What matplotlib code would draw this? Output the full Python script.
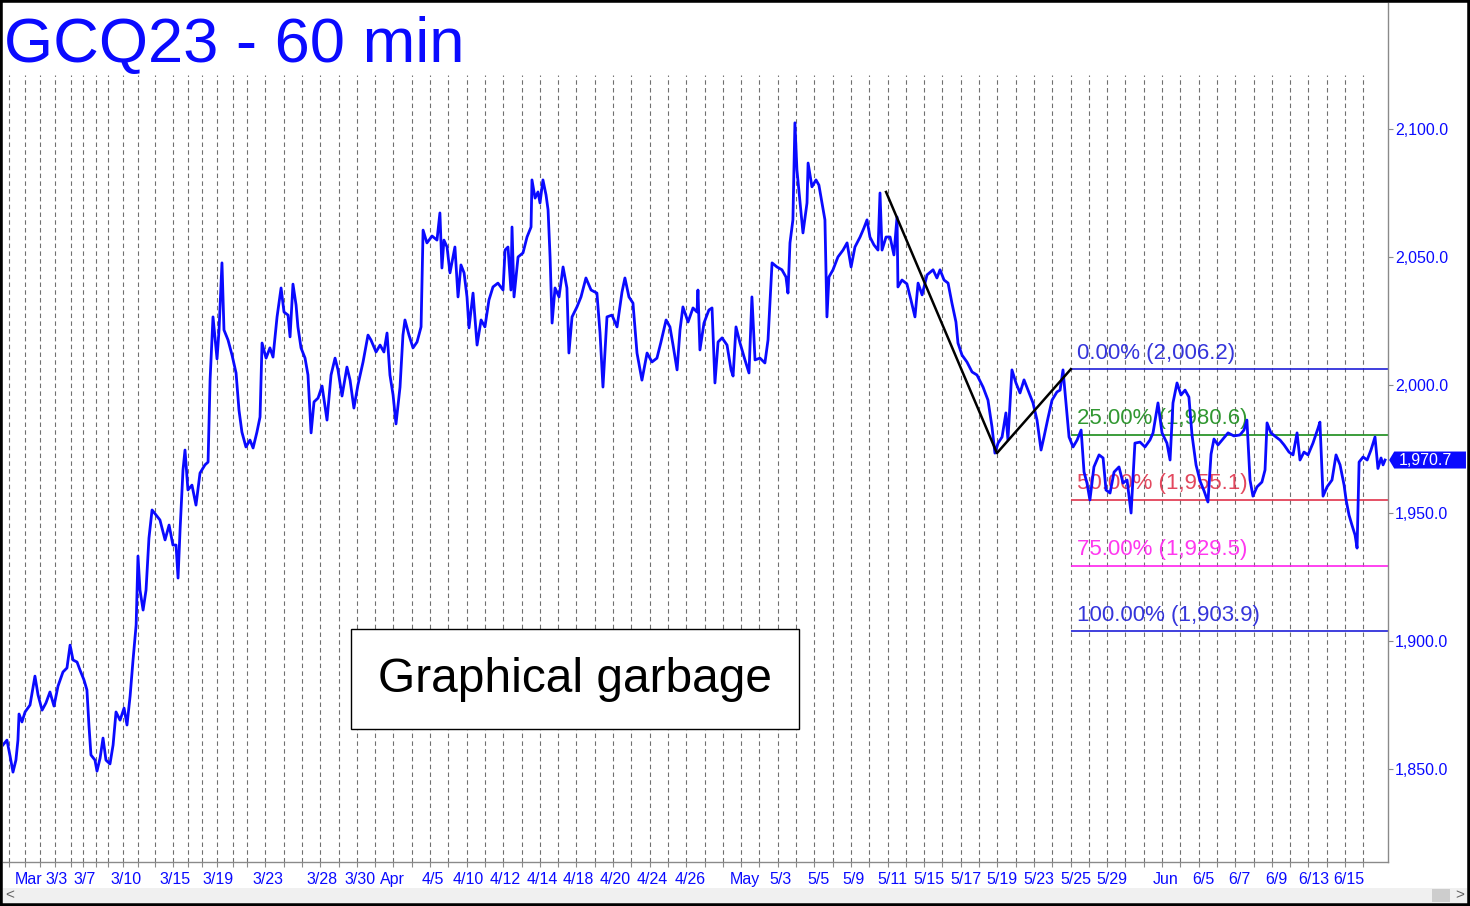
import matplotlib
matplotlib.use('Agg')
import matplotlib.pyplot as plt
import matplotlib.transforms as mtransforms
from matplotlib.patches import Rectangle, Polygon

plt.rcParams['font.family'] = ['Liberation Sans', 'DejaVu Sans']

# x = session number (one per day gridline), price in $/oz
t = [-0.34, -0.12, 0.05, 0.21, 0.37, 0.48, 0.54, 0.70, 0.87, 1.14, 1.41, 1.58, 1.80, 2.01, 2.23, 2.45, 2.67, 2.94,
     3.16, 3.33, 3.49, 3.71, 3.87, 4.09, 4.25, 4.36, 4.47, 4.69, 4.80, 4.97, 5.13, 5.29, 5.51, 5.68, 5.84, 6.06,
     6.28, 6.44, 6.61, 6.77, 6.94, 7.04, 7.15, 7.32, 7.48, 7.64, 7.81, 8.03, 8.24, 8.52, 8.74, 8.95, 9.12, 9.23,
     9.34, 9.50, 9.61, 9.77, 9.99, 10.21, 10.43, 10.70, 10.87, 10.98, 11.14, 11.36, 11.47, 11.63, 11.74, 11.96,
     12.18, 12.40, 12.56, 12.72, 12.94, 13.16, 13.33, 13.54, 13.71, 13.82, 14.04, 14.25, 14.42, 14.64, 14.86,
     15.02, 15.24, 15.35, 15.51, 15.68, 15.78, 15.95, 16.17, 16.33, 16.50, 16.66, 16.88, 17.10, 17.37, 17.59,
     17.81, 17.97, 18.19, 18.46, 18.63, 18.84, 19.06, 19.34, 19.61, 19.77, 20.05, 20.27, 20.48, 20.65, 20.81,
     20.98, 21.14, 21.36, 21.52, 21.63, 21.85, 22.07, 22.29, 22.51, 22.62, 22.83, 23.11, 23.38, 23.54, 23.65,
     23.76, 23.93, 24.09, 24.36, 24.53, 24.69, 24.86, 25.02, 25.13, 25.35, 25.57, 25.79, 26.00, 26.22, 26.44,
     26.71, 26.99, 27.10, 27.26, 27.42, 27.48, 27.59, 27.81, 28.08, 28.30, 28.52, 28.57, 28.74, 28.90, 29.01,
     29.17, 29.34, 29.45, 29.56, 29.67, 29.83, 30.05, 30.27, 30.48, 30.59, 30.76, 31.03, 31.25, 31.52, 31.80,
     32.12, 32.29, 32.45, 32.67, 32.94, 33.22, 33.49, 33.65, 33.87, 34.09, 34.31, 34.58, 34.86, 35.13, 35.40,
     35.62, 35.90, 36.11, 36.28, 36.50, 36.66, 36.82, 37.10, 37.37, 37.59, 37.64, 37.75, 37.97, 38.24, 38.41,
     38.57, 38.74, 38.96, 39.23, 39.45, 39.56, 39.72, 39.94, 40.21, 40.43, 40.59, 40.76, 41.03, 41.30, 41.47,
     41.69, 41.96, 42.23, 42.45, 42.56, 42.67, 42.83, 42.94, 43.05, 43.22, 43.38, 43.60, 43.66, 43.87, 44.09,
     44.25, 44.42, 44.58, 44.69, 44.80, 45.02, 45.29, 45.57, 45.79, 46.01, 46.22, 46.50, 46.71, 46.88, 47.04,
     47.26, 47.48, 47.59, 47.70, 47.92, 48.14, 48.35, 48.52, 48.57, 48.79, 49.06, 49.28, 49.50, 49.67, 49.89,
     50.16, 50.49, 50.70, 50.87, 51.09, 51.31, 51.52, 51.74, 51.85, 52.07, 52.34, 52.62, 52.89, 53.22, 53.49,
     53.71, 53.87, 54.04, 54.26, 54.47, 54.58, 54.80, 55.02, 55.24, 55.46, 55.68, 55.95, 56.17, 56.39, 56.55,
     56.77, 56.99, 57.26, 57.43, 57.59, 57.76, 57.92, 58.14, 58.36, 58.58, 58.74, 58.90, 59.06, 59.28, 59.56,
     59.78, 59.94, 60.16, 60.38, 60.65, 60.87, 61.09, 61.31, 61.52, 61.80, 62.07, 62.34, 62.51, 62.78, 63.00,
     63.27, 63.44, 63.60, 63.82, 64.04, 64.26, 64.47, 64.64, 64.86, 65.08, 65.30, 65.51, 65.68, 65.84, 66.06,
     66.33, 66.61, 66.93, 67.26, 67.48, 67.64, 67.81, 67.97, 68.19, 68.46, 68.63, 68.74, 68.95, 69.23, 69.45,
     69.67, 69.94, 70.16, 70.38, 70.54, 70.76, 70.98, 71.25, 71.53, 71.63, 71.80, 72.02, 72.29, 72.51, 72.73,
     72.95, 73.06, 73.22, 73.38, 73.55, 73.66, 73.77, 73.99, 74.21, 74.42, 74.64, 74.80, 74.97, 75.08, 75.19]

price = [1859.4, 1861.3, 1855.1, 1848.8, 1853.5, 1861.3, 1871.5, 1868.4, 1872.3, 1875.0, 1886.3, 1878.9, 1873.0,
         1875.8, 1880.1, 1874.6, 1882.4, 1887.9, 1889.5, 1898.4, 1892.6, 1891.8, 1888.7, 1884.8, 1880.9, 1867.2,
         1855.5, 1853.5, 1849.2, 1854.3, 1862.1, 1853.5, 1852.0, 1859.4, 1872.3, 1869.1, 1873.8, 1867.2, 1878.5,
         1892.6, 1906.3, 1933.2, 1919.9, 1912.1, 1919.9, 1940.2, 1951.2, 1949.2, 1947.3, 1939.5, 1945.3, 1937.5,
         1937.5, 1924.6, 1943.4, 1966.8, 1974.6, 1959.0, 1960.9, 1953.1, 1965.6, 1968.8, 1969.9, 2002.0, 2026.6,
         2010.2, 2021.5, 2047.7, 2021.5, 2017.6, 2011.7, 2004.7, 1990.2, 1981.6, 1975.8, 1978.5, 1975.4, 1981.6,
         1987.5, 2016.4, 2010.5, 2014.5, 2010.9, 2026.6, 2037.9, 2028.5, 2027.3, 2018.8, 2039.4, 2031.2, 2022.7,
         2014.5, 2010.5, 2003.9, 1981.3, 1993.4, 1994.9, 1999.6, 1986.3, 2003.9, 2010.5, 2005.9, 1995.7, 2007.0,
         2001.9, 1991.0, 2000.0, 2009.0, 2019.5, 2017.6, 2012.9, 2015.6, 2012.9, 2020.3, 2003.9, 1996.1, 1984.8,
         1999.2, 2019.5, 2025.4, 2019.5, 2014.5, 2016.8, 2022.7, 2060.5, 2055.5, 2058.2, 2056.6, 2067.2, 2045.7,
         2056.6, 2053.9, 2043.8, 2053.9, 2034.4, 2046.9, 2043.8, 2034.4, 2022.3, 2035.9, 2015.6, 2025.4, 2022.7,
         2033.2, 2038.3, 2039.8, 2037.1, 2052.7, 2053.9, 2037.1, 2061.7, 2034.4, 2050.0, 2051.6, 2057.8, 2061.7,
         2080.1, 2073.0, 2075.4, 2071.1, 2080.1, 2074.2, 2068.4, 2050.0, 2024.2, 2037.9, 2034.4, 2046.1, 2037.9,
         2012.5, 2026.6, 2030.5, 2034.4, 2041.8, 2037.1, 2035.9, 2020.3, 1999.2, 2026.6, 2027.3, 2022.7, 2036.3,
         2041.8, 2034.4, 2032.0, 2012.5, 2001.9, 2012.5, 2009.0, 2010.5, 2016.8, 2025.4, 2022.7, 2015.6, 2005.9,
         2021.5, 2030.5, 2024.6, 2030.1, 2028.5, 2037.1, 2013.7, 2024.2, 2029.3, 2030.1, 2000.8, 2016.8, 2018.4,
         2015.6, 2005.9, 2003.5, 2022.7, 2016.4, 2009.8, 2004.7, 2034.4, 2009.8, 2010.5, 2008.6, 2017.6, 2047.7,
         2046.1, 2045.0, 2042.2, 2035.9, 2055.5, 2064.5, 2102.4, 2084.0, 2071.1, 2059.4, 2071.1, 2086.7, 2077.4,
         2080.1, 2078.1, 2071.1, 2064.5, 2026.6, 2042.2, 2045.0, 2050.0, 2052.7, 2055.5, 2046.1, 2053.9, 2057.8,
         2061.3, 2064.5, 2057.8, 2054.7, 2052.7, 2075.0, 2052.7, 2057.8, 2057.8, 2050.8, 2065.6, 2038.3, 2041.0,
         2039.5, 2033.2, 2026.6, 2039.8, 2035.2, 2043.0, 2045.0, 2041.8, 2045.0, 2041.0, 2039.8, 2032.0, 2024.6,
         2016.4, 2011.7, 2009.0, 2005.1, 2003.9, 1999.2, 1994.1, 1983.6, 1973.4, 1977.3, 1979.7, 1989.1, 1978.5,
         2005.9, 2000.8, 1996.9, 2002.0, 1998.0, 1993.0, 1986.3, 1974.6, 1979.7, 1987.1, 1994.1, 1997.3, 1998.0,
         2005.9, 1992.2, 1979.7, 1975.8, 1978.5, 1982.4, 1966.0, 1961.7, 1955.1, 1968.0, 1972.7, 1971.5, 1959.0,
         1957.8, 1966.0, 1968.0, 1961.7, 1962.9, 1950.0, 1977.3, 1977.7, 1975.8, 1978.5, 1981.3, 1993.0, 1981.3,
         1977.3, 1970.7, 1993.0, 2000.8, 1996.1, 1998.0, 1995.3, 1980.5, 1968.8, 1962.5, 1958.6, 1954.3, 1973.0,
         1978.9, 1976.6, 1978.9, 1981.3, 1980.1, 1980.5, 1982.4, 1986.3, 1962.9, 1956.6, 1960.2, 1962.1, 1966.8,
         1985.2, 1981.3, 1979.7, 1978.5, 1976.6, 1973.8, 1972.7, 1981.3, 1970.7, 1973.8, 1972.7, 1977.3, 1983.2,
         1985.5, 1956.6, 1960.2, 1962.9, 1972.7, 1968.8, 1960.9, 1955.1, 1949.2, 1945.3, 1941.4, 1936.3, 1969.9,
         1971.9, 1970.7, 1974.6, 1979.7, 1967.4, 1971.5, 1968.8, 1970.7]

# day separators (early March sessions are thinner on the chart)
day_lines = [-0.01, 0.87, 1.69, 2.51, 3.38, 4.04, 4.75, 5.40, 6.22, 7.04, 7.97, 8.95, 9.77, 10.54, 11.36,
             12.23] + list(range(13, 75))

tick_pos = [-0.06, 1.63, 3.11, 5.13, 7.86, 10.16, 12.94, 15.89, 17.97, 19.88, 22.18, 23.87, 25.89, 27.92,
            29.88, 31.90, 33.93, 36.0, 39.01, 41.19, 43.22, 45.18, 47.04, 49.01, 51.03, 53.05, 55.02, 57.04,
            59.06, 62.12, 64.25, 66.22, 68.24, 70.05, 71.96]
tick_lbl = ['Mar', '3/3', '3/7', '3/10', '3/15', '3/19', '3/23', '3/28', '3/30', 'Apr', '4/5', '4/10', '4/12',
            '4/14', '4/18', '4/20', '4/24', '4/26', 'May', '5/3', '5/5', '5/9', '5/11', '5/15', '5/17', '5/19',
            '5/23', '5/25', '5/29', 'Jun', '6/5', '6/7', '6/9', '6/13', '6/15']

y_ticks = [1850, 1900, 1950, 2000, 2050, 2100]

fib_pct = ['0.00%', '25.00%', '50.00%', '75.00%', '100.00%']
fib_val = [2006.2, 1980.6, 1955.1, 1929.5, 1903.9]
fib_col = ['#1f1fd8', '#1a8c1a', '#e0344c', '#ff22ee', '#1f1fd8']
fib_start = 58.02

abc_t = [47.92, 53.98, 58.02]
abc_p = [2075.4, 1973.4, 2006.2]

last_price = 1970.7
BLUE = '#0a0aff'

fig = plt.figure(figsize=(14.7, 9.06), dpi=100)
ax = fig.add_axes([3 / 1470, 44 / 906, 1385 / 1470, 859 / 906])
ax.set_xlim(-0.336, 75.35)
ax.set_ylim(1813.7, 2149.2)

for s in ['left', 'top']:
    ax.spines[s].set_visible(False)
for s in ['right', 'bottom']:
    ax.spines[s].set_color('#8a8a8a')
    ax.spines[s].set_linewidth(1)

ax.yaxis.tick_right()
ax.set_yticks(y_ticks)
ax.set_yticklabels([f'{v:,.1f}' for v in y_ticks], color=BLUE, fontsize=11.5)
ax.tick_params(axis='y', length=3.6, width=0.8, color='#8a8a8a', pad=1.4)
ax.set_xticks(day_lines)
ax.set_xticklabels([])
ax.tick_params(axis='x', length=3.6, width=0.8, color='#8a8a8a')

for d in day_lines:
    ax.axvline(d, ymin=0, ymax=0.916, color='#707070', lw=0.8, ls=(0, (4, 3)), zorder=1)

for lbl, pos in zip(tick_lbl, tick_pos):
    ax.annotate(lbl, xy=(pos, 0), xycoords=ax.get_xaxis_transform(), xytext=(5, -7.5),
                textcoords='offset points', ha='left', va='top', fontsize=11.5, color=BLUE,
                annotation_clip=False)

for pct, v, c in zip(fib_pct, fib_val, fib_col):
    ax.hlines(v, fib_start, 75.35, color=c, lw=1.2, zorder=2)
    ax.annotate(f'{pct} ({v:,.1f})', xy=(fib_start, v), xytext=(4.3, 4), textcoords='offset points',
                ha='left', va='bottom', fontsize=16, color=c, alpha=0.9, zorder=2)

ax.plot(t, price, color=BLUE, lw=2.0, zorder=3)
ax.plot(abc_t, abc_p, color='black', lw=1.8, zorder=4)

# last price tag on the right axis
blend = mtransforms.blended_transform_factory(ax.transAxes, ax.transData)
h = 8.5 * (2149.2 - 1813.7) / 859
tag = Polygon([(1.0008, last_price), (1.0045, last_price + h), (1.0563, last_price + h),
               (1.0563, last_price - h), (1.0045, last_price - h)],
              closed=True, transform=blend, facecolor=BLUE, edgecolor='none', clip_on=False, zorder=5)
ax.add_patch(tag)
ax.text(1.0075, last_price, f'{last_price:,.1f}', transform=blend, color='white', fontsize=11.5,
        va='center', ha='left', zorder=6)

ax.text(0.0007, 0.9313, 'GCQ23 - 60 min', transform=ax.transAxes, fontsize=45.5, color=BLUE,
        ha='left', va='baseline')

ax.add_patch(Rectangle((0.2513, 0.1548), 0.3234, 0.1164, transform=ax.transAxes,
                       facecolor='white', edgecolor='black', lw=1, zorder=6))
ax.text(0.413, 0.2125, 'Graphical garbage', transform=ax.transAxes, fontsize=34.5, color='black',
        ha='center', va='center', zorder=7)

# scrollbar strip
fig.add_artist(Rectangle((3 / 1470, 3 / 906), 1464 / 1470, 15 / 906, transform=fig.transFigure,
                         facecolor='#f0f0f0', edgecolor='none'))
fig.add_artist(Rectangle((1432 / 1470, 4 / 906), 18 / 1470, 13 / 906, transform=fig.transFigure,
                         facecolor='#cdcdcd', edgecolor='none'))
fig.text(10 / 1470, 11 / 906, '<', fontsize=11, color='#606060', ha='center', va='center')
fig.text(1460 / 1470, 11 / 906, '>', fontsize=11, color='#606060', ha='center', va='center')

fig.add_artist(Rectangle((0, 0), 1, 1, transform=fig.transFigure, fill=False, edgecolor='black', lw=4))

fig.savefig('out.png', dpi=100, facecolor='white')
